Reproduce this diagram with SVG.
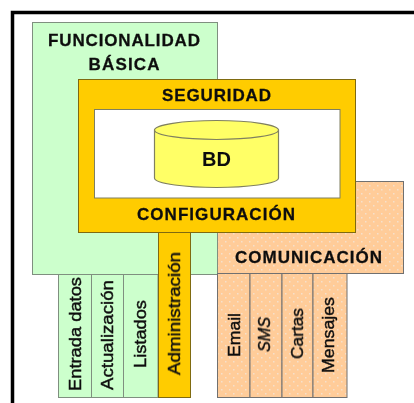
<svg xmlns="http://www.w3.org/2000/svg" width="414" height="403" viewBox="0 0 414 403">
<style>
.t{font-family:"Liberation Sans",Arial,sans-serif;fill:#111;text-anchor:middle;filter:url(#soft)}
.h{font-weight:bold;font-size:17px;stroke:#111;stroke-width:.3px}
.v{font-size:16.5px;stroke:#111;stroke-width:.4px}
.g{fill:#ccffcc;stroke:#7f8f7f;stroke-width:1}
.o{fill:#ffcc00;stroke:#7f6a10;stroke-width:1}
.c{fill:url(#dots);stroke:#707070;stroke-width:1}
</style>
<defs>
<filter id="soft" x="-10%" y="-10%" width="120%" height="120%"><feGaussianBlur stdDeviation="0.4"/></filter>
<pattern id="dots" width="8" height="8" patternUnits="userSpaceOnUse">
<rect width="8" height="8" fill="#ffcc99"/>
<rect x="1" y="1" width="1.5" height="1.500" fill="#f5e0cc"/>
<rect x="5" y="5" width="1.5" height="1.500" fill="#f5e0cc"/>
</pattern>
</defs>
<rect width="414" height="403" fill="#fff"/>
<path id="marco" d="M12.500 403V12.500H414" fill="none" stroke="#000" stroke-width="3.500"/>
<g id="comunicacion">
<rect class="c" x="217.500" y="181.500" width="186" height="92"/>
<text class="t h" x="308.500" y="263" textLength="147">COMUNICACIÓN</text>
</g>
<g id="funcionalidad">
<rect class="g" x="32.500" y="22.500" width="185" height="252"/>
<text class="t h" x="124" y="46" textLength="152">FUNCIONALIDAD</text>
<text class="t h" x="124" y="70" textLength="71">BÁSICA</text>
</g>
<g id="entrada"><rect class="g" x="58.500" y="274.500" width="33" height="123"/><text class="t v" textLength="114" lengthAdjust="spacingAndGlyphs" transform="translate(81,334) rotate(-90)">Entrada datos</text></g>
<g id="actualizacion"><rect class="g" x="91.500" y="274.500" width="32" height="123"/><text class="t v" textLength="110" lengthAdjust="spacingAndGlyphs" transform="translate(113,335) rotate(-90)">Actualización</text></g>
<g id="listados"><rect class="g" x="123.500" y="274.500" width="34.500" height="123"/><text class="t v" textLength="68" lengthAdjust="spacingAndGlyphs" transform="translate(146,334) rotate(-90)">Listados</text></g>
<g id="administracion"><rect class="o" x="158.500" y="232.500" width="32" height="165"/><text class="t v" textLength="123" lengthAdjust="spacingAndGlyphs" transform="translate(180,313.500) rotate(-90)">Administración</text></g>
<g id="email"><rect class="c" x="217.500" y="273.500" width="32.500" height="124"/><text class="t v" textLength="44" lengthAdjust="spacingAndGlyphs" transform="translate(240,335) rotate(-90)">Email</text></g>
<g id="sms"><rect class="c" x="250" y="273.500" width="32" height="124"/><text class="t v" textLength="35" lengthAdjust="spacingAndGlyphs" style="font-style:italic" transform="translate(270,334.500) rotate(-90)">SMS</text></g>
<g id="cartas"><rect class="c" x="282" y="273.500" width="31" height="124"/><text class="t v" textLength="51" lengthAdjust="spacingAndGlyphs" transform="translate(303,333.500) rotate(-90)">Cartas</text></g>
<g id="mensajes"><rect class="c" x="313" y="273.500" width="34" height="124"/><text class="t v" textLength="76" lengthAdjust="spacingAndGlyphs" transform="translate(334,335) rotate(-90)">Mensajes</text></g>
<g id="seguridad">
<rect class="o" x="78.500" y="79.500" width="277" height="153"/>
<rect x="94.500" y="109.500" width="245.500" height="88.500" fill="#fff" stroke="#7f7f60"/>
<text class="t h" x="216.500" y="101" textLength="109">SEGURIDAD</text>
<text class="t h" x="216" y="220" textLength="158">CONFIGURACIÓN</text>
</g>
<g id="bd">
<path d="M154.500 130V178C154.500 184 188 187.500 216.500 187.500S278.500 184 278.500 178V130Z" fill="#ffff66" stroke="#808060" stroke-width="1.200"/>
<ellipse cx="216.500" cy="130" rx="62" ry="9.500" fill="#ffff66" stroke="#808060" stroke-width="1.200"/>
<text class="t" x="216.500" y="166" style="font-weight:bold;font-size:20px">BD</text>
</g>
</svg>
